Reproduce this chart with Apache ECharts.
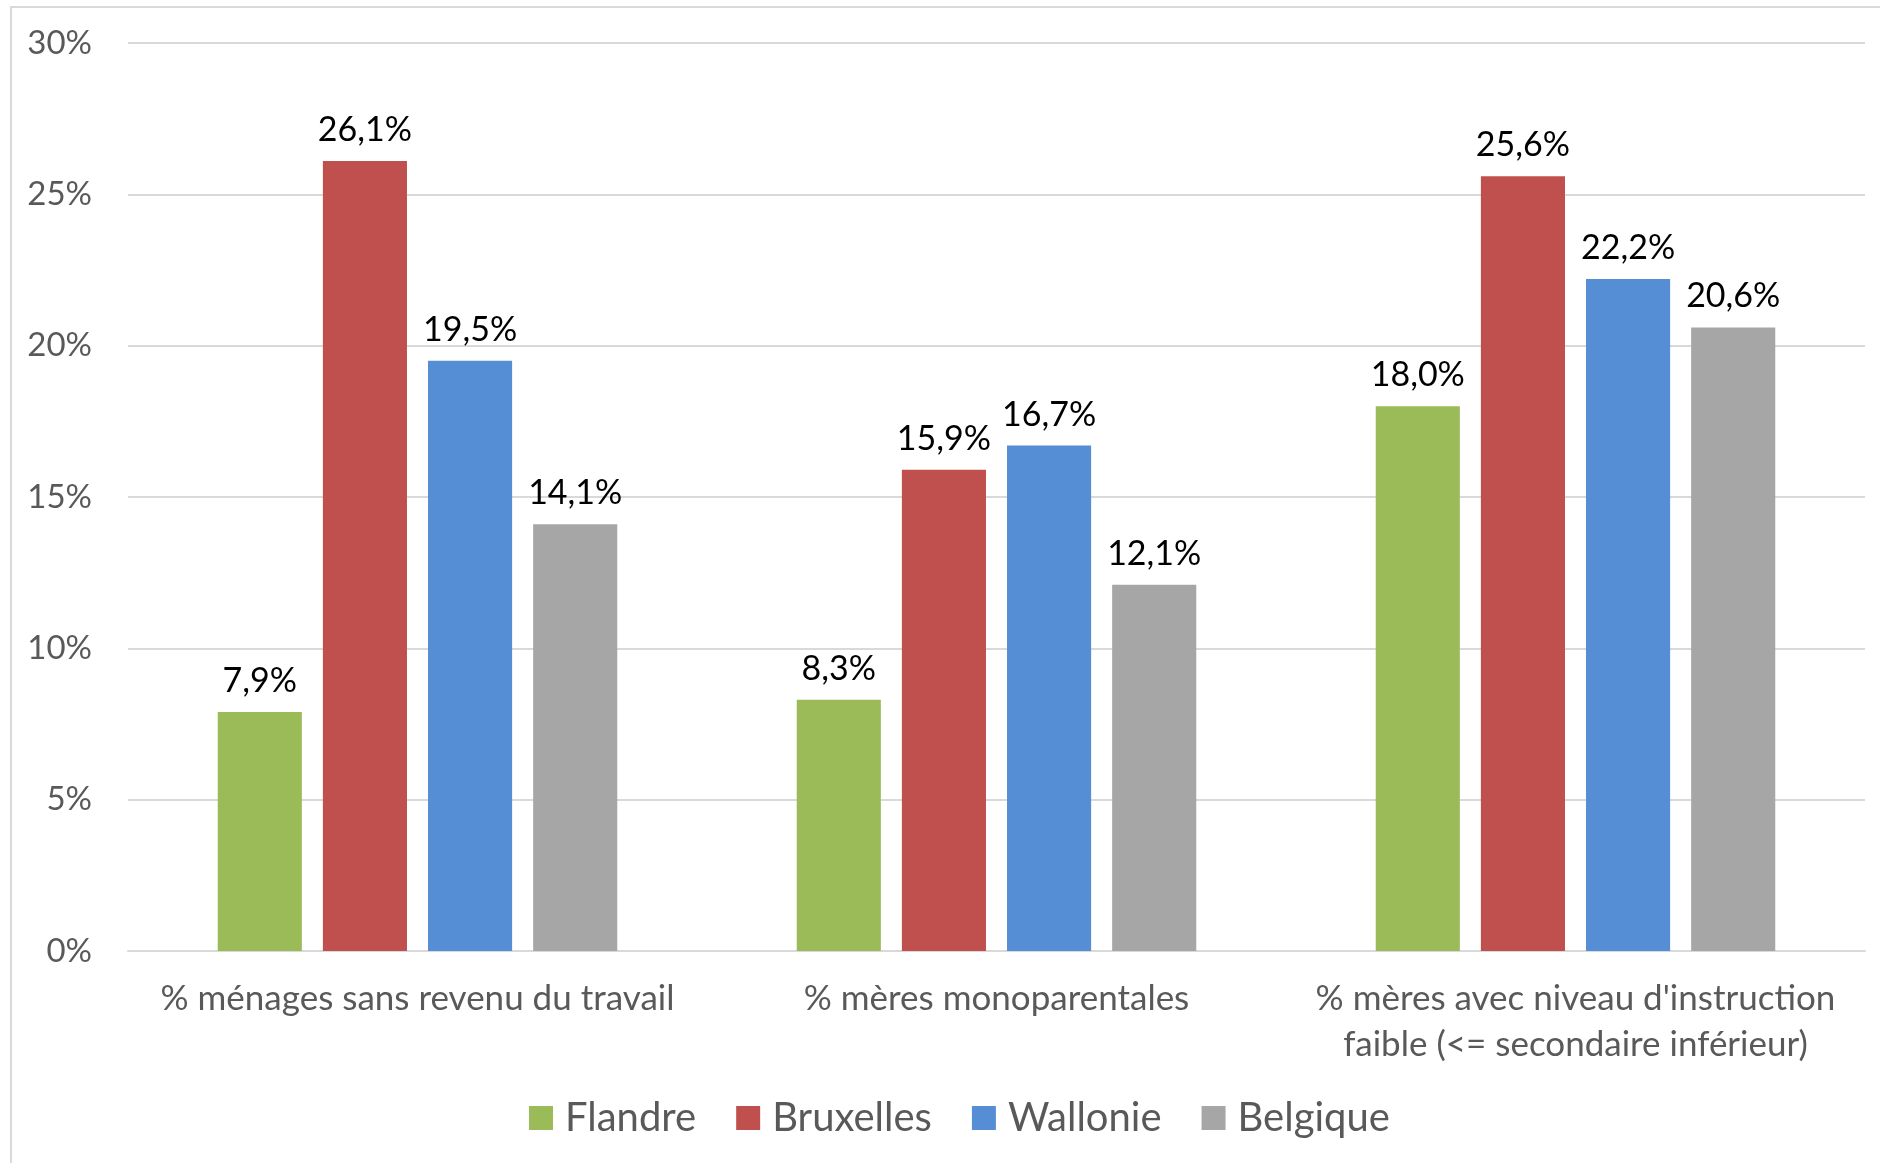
<!DOCTYPE html>
<html>
<head>
<meta charset="utf-8">
<script src="https://cdn.jsdelivr.net/npm/echarts@6/dist/echarts.min.js"></script>
<style>
  html, body { margin: 0; padding: 0; background: #ffffff; }
  #chart { width: 1880px; height: 1163px; }
</style>
</head>
<body>
<div id="chart"></div>
<script>
// Indicator categories (x axis)
const categories = [
  '% ménages sans revenu du travail',
  '% mères monoparentales',
  "% mères avec niveau d'instruction\nfaible (<= secondaire inférieur)"
];

// Regions and their values (%)
const regions = ['Flandre', 'Bruxelles', 'Wallonie', 'Belgique'];
const flandre   = [7.9, 8.3, 18.0];
const bruxelles = [26.1, 15.9, 25.6];
const wallonie  = [19.5, 16.7, 22.2];
const belgique  = [14.1, 12.1, 20.6];

const colors = ['#9BBB59', '#C0504D', '#558ED5', '#A6A6A6'];

// Y axis range and step (%)
const yMin = 0;
const yMax = 30;
const yStep = 5;

const FONT = 'Lato, "Open Sans", sans-serif';

const seriesValues = [flandre, bruxelles, wallonie, belgique];

const fmtPct = v => v.toFixed(1).replace('.', ',') + '%';

const chart = echarts.init(document.getElementById('chart'), null, { renderer: 'canvas' });

chart.setOption({
  backgroundColor: '#ffffff',
  animation: false,
  color: colors,
  textStyle: { fontFamily: FONT },
  graphic: [{
    type: 'rect',
    shape: { x: 11, y: 7, width: 1890, height: 1170 },
    style: { fill: 'none', stroke: '#d9d9d9', lineWidth: 2 },
    silent: true,
    z: -1
  }],
  grid: { left: 128, right: 15, top: 43, bottom: 212, containLabel: false },
  legend: {
    data: regions,
    top: 1096,
    left: 529,
    padding: 0,
    itemWidth: 24,
    itemHeight: 24,
    itemGap: 40,
    icon: 'rect',
    textStyle: { color: '#595959', fontSize: 40, lineHeight: 44, fontFamily: FONT, padding: [0, 0, 0, 7] }
  },
  xAxis: {
    type: 'category',
    data: categories,
    axisLine: { lineStyle: { color: '#d9d9d9', width: 2 } },
    axisTick: { show: false },
    axisLabel: {
      color: '#595959',
      fontSize: 35,
      lineHeight: 46,
      margin: 25,
      interval: 0,
      align: 'center',
      fontFamily: FONT
    }
  },
  yAxis: {
    type: 'value',
    min: yMin,
    max: yMax,
    interval: yStep,
    axisLine: { show: false },
    axisTick: { show: false },
    splitLine: { lineStyle: { color: '#d9d9d9', width: 2 } },
    axisLabel: {
      color: '#595959',
      fontSize: 33,
      margin: 36,
      fontFamily: FONT,
      formatter: '{value}%'
    }
  },
  series: regions.map((name, i) => ({
    name: name,
    type: 'bar',
    data: seriesValues[i],
    barGap: '25%',
    barCategoryGap: '31%',
    itemStyle: { color: colors[i] },
    label: {
      show: true,
      position: 'top',
      distance: 14,
      color: '#000000',
      fontSize: 34,
      fontFamily: FONT,
      formatter: p => fmtPct(p.value)
    }
  }))
});
</script>
</body>
</html>
